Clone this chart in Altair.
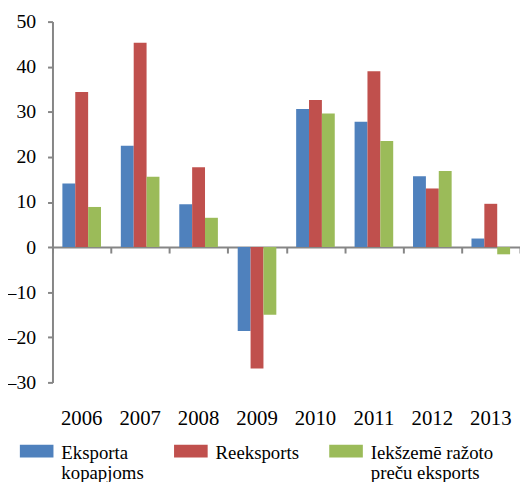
import altair as alt
import pandas as pd

years = ["2006", "2007", "2008", "2009", "2010", "2011", "2012", "2013"]
series = ["Eksporta kopapjoms", "Reeksports", "Iekšzemē ražoto preču eksports"]
eksporta = [14.1, 22.5, 9.5, -18.6, 30.6, 27.8, 15.7, 1.9]
reeksports = [34.4, 45.3, 17.7, -26.9, 32.6, 39.0, 13.0, 9.6]
iekszeme = [8.9, 15.6, 6.5, -15.0, 29.6, 23.5, 16.9, -1.6]
colors = ["#4F81BD", "#C0504D", "#9BBB59"]
y_ticks = [-30, -20, -10, 0, 10, 20, 30, 40, 50]

rows = []
for name, vals in zip(series, [eksporta, reeksports, iekszeme]):
    for yr, v in zip(years, vals):
        rows.append({"year": yr, "series": name, "value": v})
df = pd.DataFrame(rows)

W, H = 473, 365
FONT = "Liberation Serif, Times New Roman, serif"
GREY = "#868686"
zero_offset = -(H * 30 / 80)

xscale = alt.Scale(paddingInner=0, paddingOuter=0)

label_expr = ("datum.label === 'Eksporta kopapjoms' ? ['Eksporta', 'kopapjoms'] : "
              "datum.label === 'Iekšzemē ražoto preču eksports' ? ['Iekšzemē ražoto', 'preču eksports'] : "
              "[datum.label, ' ']")

bars = alt.Chart(df).mark_bar().encode(
    x=alt.X("year:N", scale=xscale, title=None,
            axis=alt.Axis(orient="bottom", labels=False, domain=True, domainColor=GREY,
                          domainWidth=2, ticks=True, tickColor=GREY, tickWidth=2, tickSize=6,
                          tickBand="extent", offset=zero_offset, grid=False)),
    xOffset=alt.XOffset("series:N", sort=series,
                        scale=alt.Scale(paddingInner=0, paddingOuter=0.77)),
    y=alt.Y("value:Q", title=None,
            scale=alt.Scale(domain=[-30, 50], nice=False, zero=False),
            axis=alt.Axis(values=y_ticks, grid=False, domainColor=GREY, domainWidth=2,
                          tickColor=GREY, tickWidth=2, tickSize=5,
                          labelFont=FONT, labelFontSize=20, labelColor="#000000",
                          labelPadding=12,
                          labelExpr="datum.value < 0 ? '–' + abs(datum.value) : datum.label")),
    color=alt.Color("series:N", sort=series, title=None,
                    scale=alt.Scale(domain=series, range=colors),
                    legend=alt.Legend(orient="none", legendX=-33, legendY=411,
                                      direction="horizontal", columns=3,
                                      symbolType="M-1,0H1V0.77H-1Z", symbolSize=1156,
                                      symbolStrokeWidth=0, symbolOpacity=1,
                                      labelFont=FONT, labelFontSize=19, labelColor="#000000",
                                      labelLimit=300, labelOffset=8, labelBaseline="top",
                                      columnPadding=30, padding=0, labelExpr=label_expr)),
)

labels = alt.Chart(df).mark_point(opacity=0).encode(
    x=alt.X("year:N", scale=xscale, title=None,
            axis=alt.Axis(orient="bottom", domain=False, ticks=False, tickSize=0, grid=False,
                          labelAngle=0, labelFont=FONT, labelFontSize=21,
                          labelColor="#000000", labelPadding=26)),
)

chart = alt.layer(bars, labels).resolve_axis(x="independent").properties(
    width=W, height=H,
    autosize=alt.AutoSizeParams(type="none"),
    padding={"left": 45, "top": 11, "right": 0, "bottom": 98},
).configure(
    style={"guide-label": {"lineHeight": 20}}
).configure_view(stroke=None).configure_axis(labelFont=FONT).configure_legend(labelFont=FONT)

chart.save("out.html", embed_options={"renderer": "svg", "actions": False})
